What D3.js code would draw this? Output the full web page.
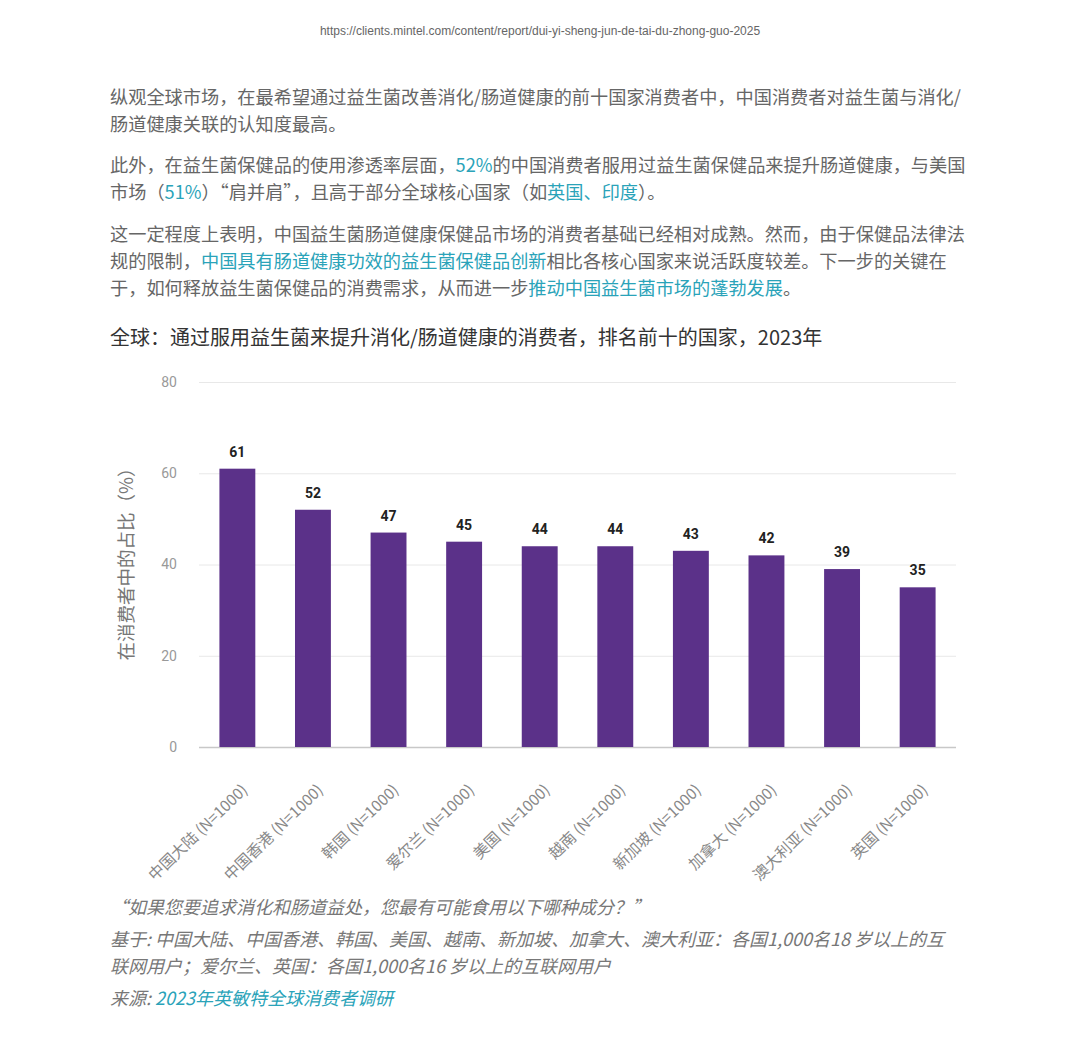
<!DOCTYPE html>
<html>
<head>
<meta charset="utf-8">
<script src="https://cdn.jsdelivr.net/npm/d3@7"></script>
<style>
  body { margin: 0; background: #fff; }
  svg { display: block; }
  .cjk { font-family: "Noto Sans CJK SC", "Noto Sans", sans-serif; }
</style>
</head>
<body>
<svg width="1080" height="1053"></svg>
<script>
const countries = ['中国大陆', '中国香港', '韩国', '爱尔兰', '美国', '越南', '新加坡', '加拿大', '澳大利亚', '英国'];
const sampleSize = 'N=1000';
const shares = [61, 52, 47, 45, 44, 44, 43, 42, 39, 35];
const yTicks = [0, 20, 40, 60, 80];

// body text, one entry per line, [text, highlighted?]
const paragraphLines = [
  [['纵观全球市场，在最希望通过益生菌改善消化/肠道健康的前十国家消费者中，中国消费者对益生菌与消化/', false]],
  [['肠道健康关联的认知度最高。', false]],
  [['此外，在益生菌保健品的使用渗透率层面，', false], ['52%', true], ['的中国消费者服用过益生菌保健品来提升肠道健康，与美国', false]],
  [['市场（', false], ['51%', true], ['）“肩并肩”，且高于部分全球核心国家（如', false], ['英国、印度', true], ['）。', false]],
  [['这一定程度上表明，中国益生菌肠道健康保健品市场的消费者基础已经相对成熟。然而，由于保健品法律法', false]],
  [['规的限制，', false], ['中国具有肠道健康功效的益生菌保健品创新', true], ['相比各核心国家来说活跃度较差。下一步的关键在', false]],
  [['于，如何释放益生菌保健品的消费需求，从而进一步', false], ['推动中国益生菌市场的蓬勃发展', true], ['。', false]]
];
const paragraphY = [104, 131, 172, 199, 241, 268, 295];

const chartTitle = '全球：通过服用益生菌来提升消化/肠道健康的消费者，排名前十的国家，2023年';
const yLabel = '在消费者中的占比（%）';
const footLines = [
  [['“如果您要追求消化和肠道益处，您最有可能食用以下哪种成分？”', false]],
  [['基于: 中国大陆、中国香港、韩国、美国、越南、新加坡、加拿大、澳大利亚：各国1,000名18 岁以上的互', false]],
  [['联网用户；爱尔兰、英国：各国1,000名16 岁以上的互联网用户', false]],
  [['来源: ', false], ['2023年英敏特全球消费者调研', true]]
];
const footY = [914, 946, 973, 1005];

const svg = d3.select('svg');
const teal = '#2aa3b9';

svg.append('text')
  .attr('x', 540).attr('y', 35)
  .attr('text-anchor', 'middle')
  .attr('font-family', 'Liberation Sans, Arial, sans-serif')
  .attr('font-size', 12)
  .attr('fill', '#666')
  .text('https://clients.mintel.com/content/report/dui-yi-sheng-jun-de-tai-du-zhong-guo-2025');

const writeLines = (lines, ys, opts) => {
  lines.forEach((segs, i) => {
    const t = svg.append('text')
      .attr('class', 'cjk')
      .attr('x', 110).attr('y', ys[i])
      .attr('font-size', opts.size)
      .attr('font-style', opts.italic ? 'italic' : 'normal')
      .attr('fill', opts.color);
    segs.forEach(([s, hi]) => {
      t.append('tspan').attr('fill', hi ? teal : opts.color).text(s);
    });
  });
};

writeLines(paragraphLines, paragraphY, { size: 18.2, color: '#666' });

svg.append('text')
  .attr('class', 'cjk')
  .attr('x', 110).attr('y', 345)
  .attr('font-size', 20)
  .attr('fill', '#333')
  .text(chartTitle);

// chart
const margin = { top: 382, left: 199, right: 124, bottom: 306 };
const innerWidth = 1080 - margin.left - margin.right;
const innerHeight = 1053 - margin.top - margin.bottom;

const g = svg.append('g')
  .attr('transform', `translate(${margin.left},${margin.top})`);

const xScale = d3.scaleBand()
  .domain(countries)
  .range([0, innerWidth])
  .paddingInner(0.525)
  .paddingOuter(0.27);

const yScale = d3.scaleLinear()
  .domain([0, 80])
  .range([innerHeight, 0]);

const yAxis = d3.axisLeft(yScale)
  .tickValues(yTicks)
  .tickSize(-innerWidth)
  .tickPadding(22);

const yAxisG = g.append('g').call(yAxis);
yAxisG.select('.domain').remove();
yAxisG.selectAll('.tick line')
  .attr('stroke', d => d === 0 ? '#c8c8c8' : '#e8e8e8')
  .attr('stroke-width', d => d === 0 ? 1.5 : 1);
yAxisG.selectAll('.tick text')
  .attr('font-family', 'Roboto, sans-serif')
  .attr('font-size', 14)
  .attr('fill', '#999');

g.append('text')
  .attr('class', 'cjk')
  .attr('transform', `translate(-66, ${innerHeight / 2 - 5}) rotate(-90)`)
  .attr('text-anchor', 'middle')
  .attr('font-size', 18.5)
  .attr('fill', '#777')
  .text(yLabel);

g.selectAll('rect.bar').data(shares)
  .enter().append('rect')
    .attr('class', 'bar')
    .attr('x', (d, i) => xScale(countries[i]))
    .attr('y', d => yScale(d))
    .attr('width', xScale.bandwidth())
    .attr('height', d => innerHeight - yScale(d))
    .attr('fill', '#5b3189');

g.selectAll('text.value').data(shares)
  .enter().append('text')
    .attr('class', 'value')
    .attr('x', (d, i) => xScale(countries[i]) + xScale.bandwidth() / 2)
    .attr('y', d => yScale(d) - 12)
    .attr('text-anchor', 'middle')
    .attr('font-family', 'Roboto, sans-serif')
    .attr('font-weight', 'bold')
    .attr('font-size', 14)
    .attr('fill', '#222')
    .text(d => d);

const xAxis = d3.axisBottom(xScale)
  .tickSize(0)
  .tickFormat(d => `${d} (${sampleSize})`);

const xAxisG = g.append('g')
  .attr('transform', `translate(0, ${innerHeight})`)
  .call(xAxis);
xAxisG.select('.domain').remove();
xAxisG.selectAll('.tick text')
  .attr('class', 'cjk')
  .attr('font-size', 15.5)
  .attr('fill', '#888')
  .attr('text-anchor', 'end')
  .attr('dy', 0)
  .attr('transform', 'translate(9, 42) rotate(-44)');

writeLines(footLines, footY, { size: 18, color: '#777', italic: true });
</script>
</body>
</html>
